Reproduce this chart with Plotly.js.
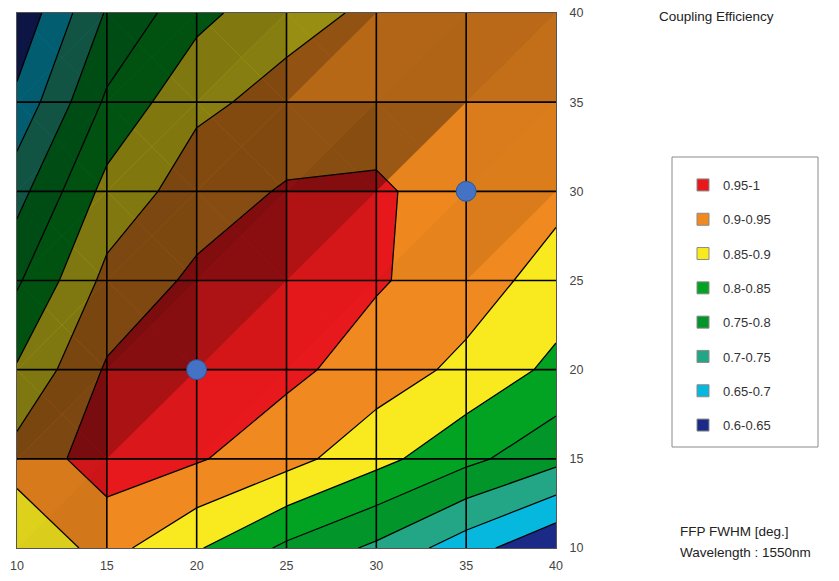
<!DOCTYPE html>
<html>
<head>
<meta charset="utf-8">
<script src="https://cdn.plot.ly/plotly-3.0.1.min.js"></script>
<style>html,body{margin:0;padding:0;background:#fff}#chart{width:839px;height:581px}</style>
</head>
<body>
<div id="chart"></div>
<script>
// Grid axes (FFP FWHM in degrees)
const xVals = [10, 15, 20, 25, 30, 35, 40];
const yVals = [10, 15, 20, 25, 30, 35, 40];
const xTickLabels = ['10', '15', '20', '25', '30', '35', '40'];
const yTickLabels = ['10', '15', '20', '25', '30', '35', '40'];

// Coupling efficiency, one row per y value
const effY10 = [0.860, 0.918, 0.855, 0.790, 0.740, 0.672, 0.605];
const effY15 = [0.920, 0.974, 0.955, 0.918, 0.866, 0.813, 0.765];
const effY20 = [0.855, 0.956, 0.975, 0.962, 0.927, 0.887, 0.838];
const effY25 = [0.793, 0.914, 0.960, 0.975, 0.955, 0.925, 0.878];
const effY30 = [0.731, 0.867, 0.925, 0.955, 0.962, 0.912, 0.915];
const effY35 = [0.662, 0.809, 0.890, 0.915, 0.912, 0.925, 0.930];
const effY40 = [0.610, 0.755, 0.835, 0.885, 0.908, 0.920, 0.930];

// Highlighted points
const markerX = [20, 35];
const markerY = [20, 30];

// Bands (legend order: high to low)
const bandLabels = ['0.95-1', '0.9-0.95', '0.85-0.9', '0.8-0.85', '0.75-0.8', '0.7-0.75', '0.65-0.7', '0.6-0.65'];
const bandColors = ['#e8191c', '#f0891f', '#f9ea1f', '#02a222', '#01952a', '#22a686', '#06b7de', '#1b2a86'];

const zGrid = [effY10, effY15, effY20, effY25, effY30, effY35, effY40];

// Step colorscale: band k (low->high) sampled at k/9 for k = 1..8
const lowToHigh = bandColors.slice().reverse();
const slotColors = [lowToHigh[0]].concat(lowToHigh, [lowToHigh[lowToHigh.length - 1]]);
const colorscale = [];
for (let k = 0; k < slotColors.length; k++) {
  const a = Math.max(0, (k - 0.5) / 9), b = Math.min(1, (k + 0.5) / 9);
  colorscale.push([a, slotColors[k]]);
  colorscale.push([b, slotColors[k]]);
}

const traces = [];
traces.push({
  type: 'contour', x: xVals, y: yVals, z: zGrid,
  autocontour: false,
  contours: {coloring: 'fill', showlines: true, start: 0.6, end: 1.0, size: 0.05},
  line: {color: '#000', width: 1.25, smoothing: 0},
  colorscale: colorscale, showscale: false, hoverinfo: 'skip', showlegend: false
});

// Facet shading (surface lit from lower right), computed from the grid
function shadeAlpha(p1, p2, p3) {
  const v1 = [p2[0] - p1[0], p2[1] - p1[1], p2[2] - p1[2]];
  const v2 = [p3[0] - p1[0], p3[1] - p1[1], p3[2] - p1[2]];
  const nx = v1[1] * v2[2] - v1[2] * v2[1];
  const ny = v1[2] * v2[0] - v1[0] * v2[2];
  const nz = v1[0] * v2[1] - v1[1] * v2[0];
  const gx = -nx / nz, gy = -ny / nz;
  const t = (gx - gy) / Math.SQRT2;
  const b = t > 0 ? 0.88 - 0.37 * Math.tanh(t / 0.006) : 0.88 + 0.14 * Math.tanh(-t / 0.006);
  return Math.max(0, Math.min(0.5, 1 - b));
}
for (let j = 0; j < yVals.length - 1; j++) {
  for (let i = 0; i < xVals.length - 1; i++) {
    const BL = [xVals[i], yVals[j], zGrid[j][i]];
    const BR = [xVals[i + 1], yVals[j], zGrid[j][i + 1]];
    const TL = [xVals[i], yVals[j + 1], zGrid[j + 1][i]];
    const TR = [xVals[i + 1], yVals[j + 1], zGrid[j + 1][i + 1]];
    const C = [(BL[0] + BR[0]) / 2, (BL[1] + TL[1]) / 2, (BL[2] + BR[2] + TL[2] + TR[2]) / 4];
    const tris = [[BL, BR, C], [BR, TR, C], [TR, TL, C], [TL, BL, C]];
    tris.forEach(tr => {
      const a = shadeAlpha(tr[0], tr[1], tr[2]);
      if (a <= 0.005) return;
      traces.push({
        type: 'scatter', mode: 'lines', fill: 'toself',
        x: [tr[0][0], tr[1][0], tr[2][0], tr[0][0]],
        y: [tr[0][1], tr[1][1], tr[2][1], tr[0][1]],
        line: {width: 0, color: 'rgba(0,0,0,0)'},
        fillcolor: 'rgba(0,0,0,' + a.toFixed(3) + ')',
        hoverinfo: 'skip', showlegend: false
      });
    });
  }
}

// Grid lines on top of the filled contours
const gx = [], gy = [];
const xMin = xVals[0], xMax = xVals[xVals.length - 1];
const yMin = yVals[0], yMax = yVals[yVals.length - 1];
xVals.slice(1, -1).forEach(v => { gx.push(v, v, null); gy.push(yMin, yMax, null); });
yVals.slice(1, -1).forEach(v => { gx.push(xMin, xMax, null); gy.push(v, v, null); });
traces.push({type: 'scatter', mode: 'lines', x: gx, y: gy, line: {color: '#000', width: 1.6},
  hoverinfo: 'skip', showlegend: false});

// Blue markers
traces.push({type: 'scatter', mode: 'markers', x: markerX, y: markerY,
  marker: {size: 20, color: '#4472c4', line: {color: '#2f5597', width: 1}},
  hoverinfo: 'skip', showlegend: false, cliponaxis: false});

// Legend entries
bandLabels.forEach((lab, k) => {
  traces.push({type: 'scatter', mode: 'markers', x: [null], y: [null], name: lab,
    legendgroup: 'g' + k,
    marker: {symbol: 'square', size: 12, color: bandColors[k], line: {color: '#8a8a8a', width: 1}}});
});

const PX = p => (p - 17) / 539;
const PY = p => (548 - p) / 535;

const layout = {
  width: 839, height: 581,
  margin: {l: 17, r: 283, t: 13, b: 33, pad: 0},
  paper_bgcolor: '#fff', plot_bgcolor: '#fff',
  font: {family: 'Liberation Sans, Arial, sans-serif', size: 13, color: '#333'},
  xaxis: {range: [xMin, xMax], tickvals: xVals, ticktext: xTickLabels, showgrid: false, zeroline: false,
    ticks: 'outside', ticklen: 6, tickcolor: 'rgba(0,0,0,0)', showline: true, mirror: true,
    linecolor: '#555', linewidth: 1, tickfont: {size: 12.5, color: '#444'}},
  yaxis: {range: [yMin, yMax], tickvals: yVals, ticktext: yTickLabels, side: 'right', showgrid: false,
    zeroline: false, ticks: 'outside', ticklen: 10, tickcolor: 'rgba(0,0,0,0)', showline: true, mirror: true,
    linecolor: '#555', linewidth: 1, tickfont: {size: 12.5, color: '#444'}},
  showlegend: true,
  legend: {x: PX(683), y: PY(170), xanchor: 'left', yanchor: 'top', bgcolor: 'rgba(0,0,0,0)',
    borderwidth: 0, tracegroupgap: 14.4, font: {size: 13, color: '#333'}, itemclick: false},
  shapes: [{type: 'rect', xref: 'paper', yref: 'paper', x0: PX(672), x1: PX(818), y0: PY(447), y1: PY(157),
    line: {color: '#8a8a8a', width: 1}, fillcolor: 'rgba(0,0,0,0)'}],
  annotations: [
    {text: 'Coupling Efficiency', xref: 'paper', yref: 'paper', x: PX(657), y: PY(17), xanchor: 'left',
      yanchor: 'middle', showarrow: false, font: {size: 13.5, color: '#222'}},
    {text: 'FFP FWHM [deg.]', xref: 'paper', yref: 'paper', x: PX(678), y: PY(531), xanchor: 'left',
      yanchor: 'middle', showarrow: false, font: {size: 13.5, color: '#222'}},
    {text: 'Wavelength : 1550nm', xref: 'paper', yref: 'paper', x: PX(678), y: PY(553), xanchor: 'left',
      yanchor: 'middle', showarrow: false, font: {size: 13.5, color: '#222'}}
  ]
};

Plotly.newPlot('chart', traces, layout, {staticPlot: true, displayModeBar: false});
</script>
</body>
</html>
